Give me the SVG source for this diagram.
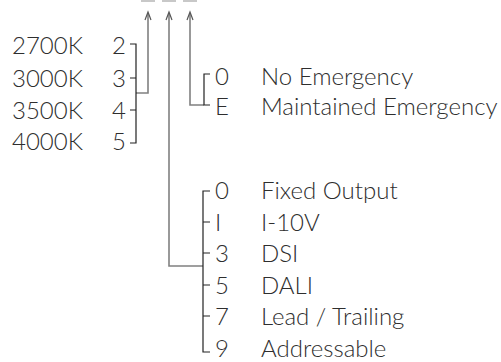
<svg xmlns="http://www.w3.org/2000/svg" width="501" height="362" viewBox="0 0 501 362">
<defs>
<style>
text{font-family:"Lato","Liberation Sans",sans-serif;font-weight:300;font-size:24px;fill:#2e2e2e}
.br{fill:none;stroke:#222;stroke-width:1.2}
.ar{fill:none;stroke:#808080;stroke-width:1.6}
.ah{fill:none;stroke:#555;stroke-width:1.2}
.bar{fill:#c8c8c8}
</style>
</defs>
<rect width="501" height="362" fill="#fff"/>
<g id="slots">
<rect class="bar" x="141" y="0" width="14" height="2"/>
<rect class="bar" x="162" y="0" width="14" height="2"/>
<rect class="bar" x="183" y="0" width="14" height="2"/>
</g>
<g id="connectors">
<path class="ar" d="M148,13 V93 H136"/>
<path class="ah" d="M145,20 L148,12 L151,20"/>
<path class="ar" d="M169,13 V266 H203"/>
<path class="ah" d="M166,20 L169,12 L172,20"/>
<path class="ar" d="M190,13 V105 H204"/>
<path class="ah" d="M187,20 L190,12 L193,20"/>
</g>
<g id="colour-temp">
<path class="br" d="M130,44 H136 V143 H130 M130,78 H136 M130,110 H136"/>
<text x="12" y="54">2700K</text><text x="112" y="54">2</text>
<text x="12" y="87">3000K</text><text x="112" y="87">3</text>
<text x="12" y="119">3500K</text><text x="112" y="119">4</text>
<text x="12" y="150">4000K</text><text x="112" y="150">5</text>
</g>
<g id="emergency">
<path class="br" d="M210,74 H204 V105 H210"/>
<text x="215" y="85">0</text><text x="261" y="85">No Emergency</text>
<text x="215" y="115">E</text><text x="261" y="115">Maintained Emergency</text>
</g>
<g id="control">
<path class="br" d="M210,191 H203 V352 H210 M203,222 H210 M203,253 H210 M203,285 H210 M203,316 H210"/>
<text x="215" y="199">0</text><text x="261" y="199">Fixed Output</text>
<text x="215" y="230.6">I</text><text x="261" y="230.6">I-10V</text>
<text x="215" y="262.2">3</text><text x="261" y="262.2">DSI</text>
<text x="215" y="293.8">5</text><text x="261" y="293.8">DALI</text>
<text x="215" y="325.4">7</text><text x="261" y="325.4">Lead / Trailing</text>
<text x="215" y="357">9</text><text x="261" y="357">Addressable</text>
</g>
</svg>
